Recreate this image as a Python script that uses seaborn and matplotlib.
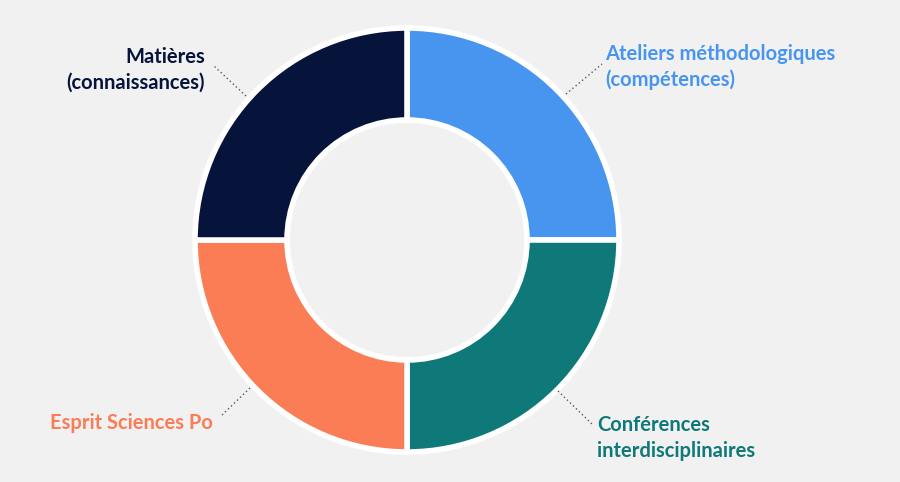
import matplotlib
matplotlib.use("Agg")
import matplotlib.pyplot as plt
import seaborn as sns

categories = ["Ateliers méthodologiques\n(compétences)", "Conférences\ninterdisciplinaires",
              "Esprit Sciences Po", "Matières\n(connaissances)"]
values = [25, 25, 25, 25]
colors = ["#4895ef", "#0f7878", "#fa7d55", "#06143c"]

sns.set_theme(style="white")
plt.rcParams['font.family'] = ['Lato', 'DejaVu Sans']

H = 482
fig = plt.figure(figsize=(9, 4.82), dpi=100, facecolor="#f1f1f1")
ax = fig.add_axes([0, 0, 1, 1])
ax.set_facecolor("#f1f1f1")
ax.set_xlim(0, 900); ax.set_ylim(0, H); ax.set_aspect("equal"); ax.axis("off")

cx, cy = 407, H - 240
ax.pie(values, colors=colors, startangle=90, counterclock=False, center=(cx, cy),
       radius=212, wedgeprops=dict(width=92, edgecolor="white", linewidth=4))
ax.set_xlim(0, 900); ax.set_ylim(0, H)

# label positions (pixels), alignment, leader lines
specs = [
    (605, 67, "left", [(566, 94), (602, 64)]),
    (597, 438, "left", [(558, 391), (592, 424)]),
    (213, 423, "right", [(250, 388), (220, 417)]),
    (205, 70, "right", [(246, 96), (214, 66)]),
]
for (tx, ty, ha, line), lab, col in zip(specs, categories, colors):
    ax.text(tx, H - ty, lab, ha=ha, va="center", color=col, fontsize=14.5,
            fontweight="bold", linespacing=1.35)
    xs = [p[0] for p in line]; ys = [H - p[1] for p in line]
    ax.plot(xs, ys, ls=(0, (1, 2)), color="#555555", lw=1)

fig.savefig("out.png", dpi=100, facecolor=fig.get_facecolor())
